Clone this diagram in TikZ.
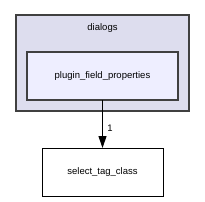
\documentclass[tikz,border=0pt]{standalone}
\usepackage{fontspec}
\setmainfont{Liberation Sans}
\usetikzlibrary{arrows.meta}
\definecolor{clusterfill}{HTML}{DDDDEE}
\definecolor{innerfill}{HTML}{EEEEFF}
\definecolor{bordergray}{HTML}{404040}
\tikzset{
  cluster/.style={draw=bordergray, fill=clusterfill, line width=1.5pt},
  dirbox/.style={draw=bordergray, fill=innerfill, line width=1.5pt},
  plainbox/.style={draw=black, fill=white, line width=1pt},
  lbl/.style={font=\fontsize{9.5pt}{11pt}\selectfont, inner sep=0pt},
  dep/.style={-{Triangle[length=12pt,width=8pt]}, line width=1.1pt}
}
\begin{document}
\begin{tikzpicture}[x=1pt,y=-1pt]
\useasboundingbox (0,0) rectangle (205,201);
\fill[white] (0,0) rectangle (205,201);
\draw[cluster] (16,15) rectangle (189,111);
\node[lbl] (dlg) at (102.5,28) {dialogs};
\draw[dirbox] (27,52) rectangle (178,100);
\node[lbl] (pfp) at (102.5,76) {plugin\_field\_properties};
\coordinate (pfpbot) at (102.5,100);
\draw[plainbox] (42,148) rectangle (163,196);
\node[lbl] (stc) at (102.5,172) {select\_tag\_class};
\coordinate (stctop) at (102.5,148);
\draw[dep] (pfpbot) -- (stctop);
\node[lbl] (one) at (110,128) {1};
\end{tikzpicture}
\end{document}
